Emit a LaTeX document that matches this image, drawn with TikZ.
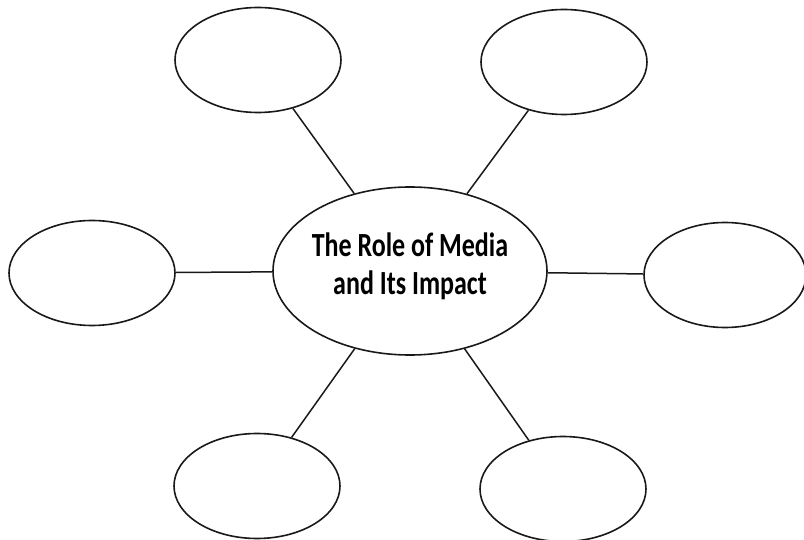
\documentclass[tikz,border=0pt]{standalone}
\usepackage{fontspec}
\setmainfont{Carlito}
\usetikzlibrary{shapes.geometric}
\tikzset{
  bubble/.style={ellipse, draw=black!90, line width=1.6pt, inner sep=0pt, minimum width=166pt, minimum height=105pt},
  hub/.style={ellipse, draw=black!90, line width=1.6pt, inner sep=0pt, minimum width=274pt, minimum height=168pt},
  link/.style={line width=1.5pt, draw=black!90}
}
\begin{document}
\begin{tikzpicture}[x=1pt,y=-1pt]
\useasboundingbox (0,0) rectangle (804,540);
\node[hub] (c) at (410,271) {};
\node (ct) at (410,268) {\scalebox{1}[1.3]{\fontsize{26}{29}\selectfont\bfseries\begin{tabular}{@{}c@{}}The Role of Media\\ and Its Impact\end{tabular}}};
\node[bubble] (tl) at (258,60) {};
\node[bubble] (tr) at (564,62) {};
\node[bubble] (l) at (92,273) {};
\node[bubble, minimum width=162pt] (r) at (725,275) {};
\node[bubble] (bl) at (257,486) {};
\node[bubble] (br) at (563,489) {};
\draw[link] (c) -- (tl);
\draw[link] (c) -- (tr);
\draw[link] (c) -- (l);
\draw[link] (c) -- (r);
\draw[link] (c) -- (bl);
\draw[link] (c) -- (br);
\end{tikzpicture}
\end{document}
